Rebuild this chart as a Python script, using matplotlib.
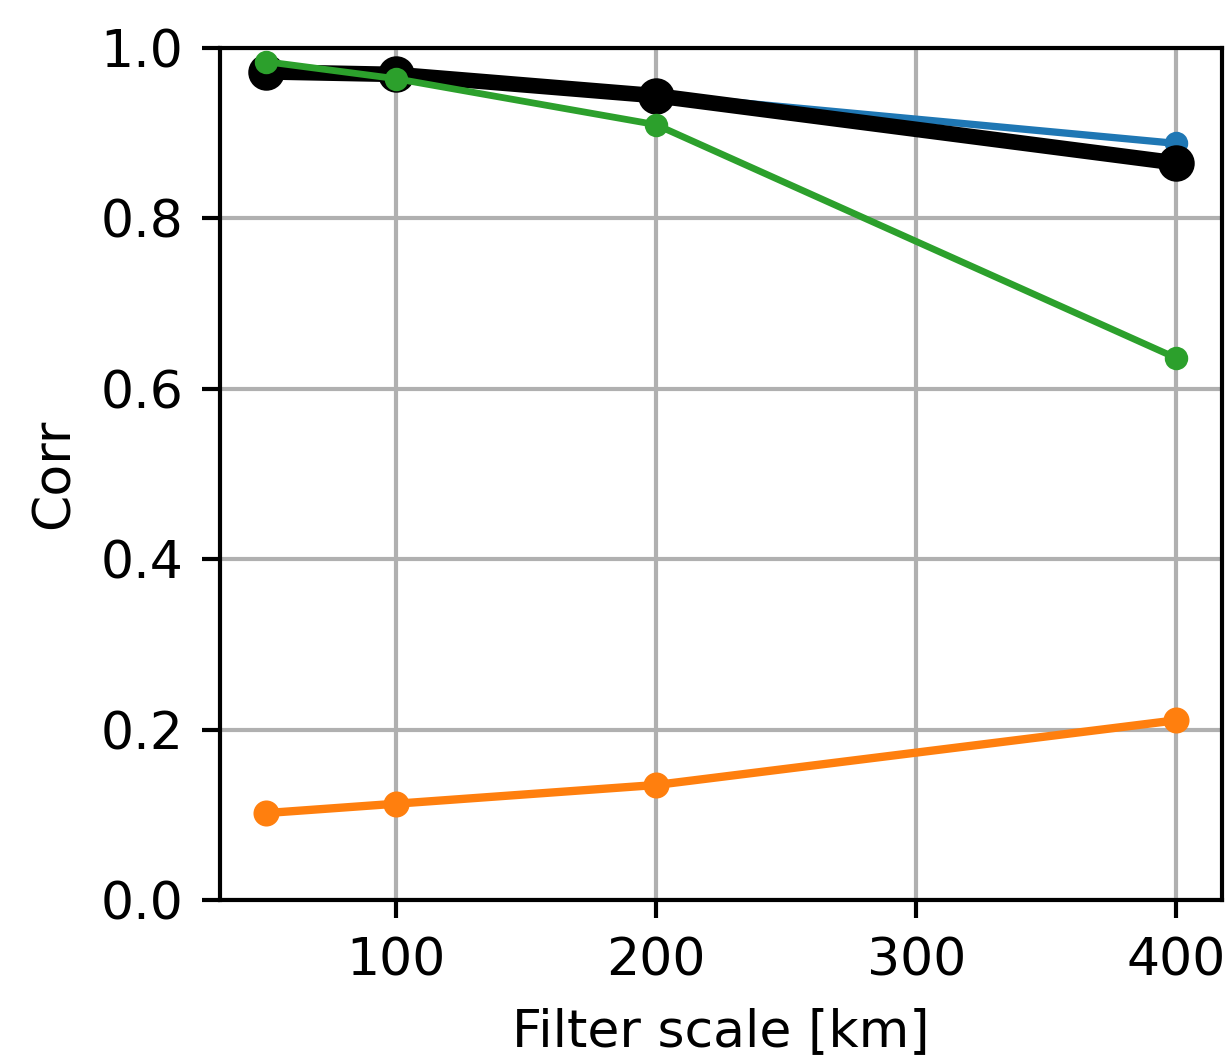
import numpy as np
import matplotlib
matplotlib.use("Agg")
import matplotlib.pyplot as plt

# filter scales [km]
scales = [50, 100, 200, 400]

corr_blue = [0.975, 0.967, 0.945, 0.888]
corr_orange = [0.102, 0.113, 0.135, 0.211]
corr_black = [0.972, 0.969, 0.944, 0.865]
corr_green = [0.984, 0.964, 0.910, 0.636]

fig = plt.figure(figsize=(1230 / 375, 1055 / 375), dpi=375)
ax = fig.add_axes([0.1789, 0.1469, 0.8146, 0.8076])

ax.plot(scales, corr_blue, '-o', color='tab:blue', lw=1.4, ms=3.5)
ax.plot(scales, corr_orange, '-o', color='tab:orange', lw=1.6, ms=4)
ax.plot(scales, corr_black, '-o', color='k', lw=3, ms=6)
ax.plot(scales, corr_green, '-o', color='tab:green', lw=1.3, ms=3.5)

ax.set_ylim(0, 1)
ax.set_xticks([100, 200, 300, 400])
ax.grid(True)
ax.set_xlabel('Filter scale [km]')
ax.set_ylabel('Corr')

fig.savefig('out.png', dpi=375)
